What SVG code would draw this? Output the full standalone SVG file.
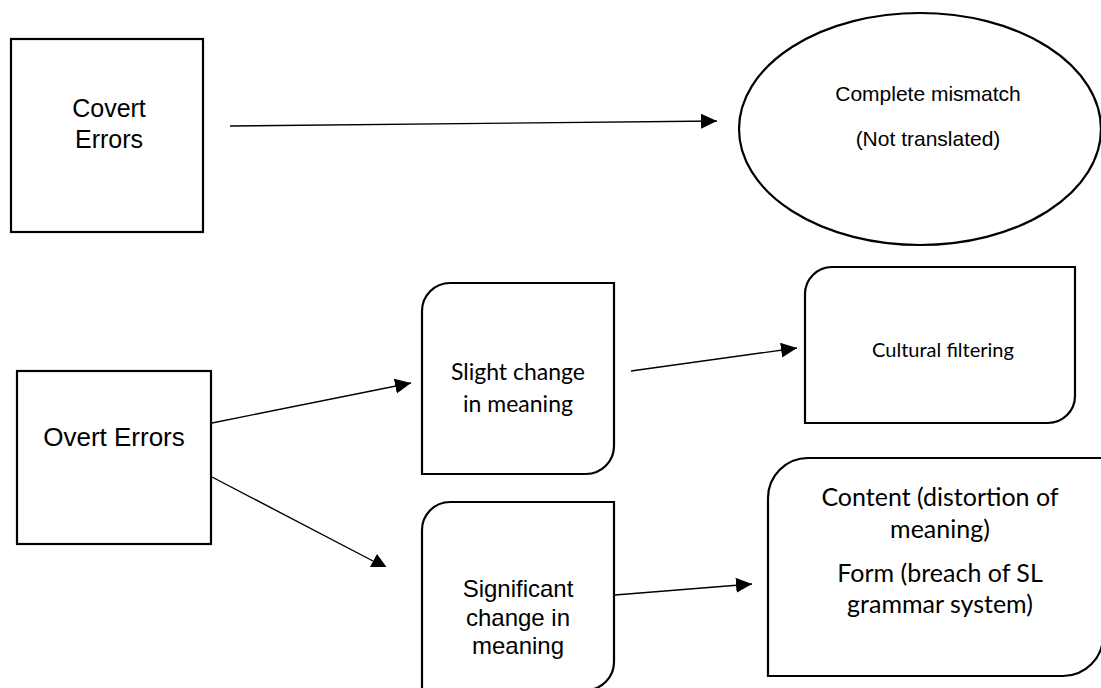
<svg xmlns="http://www.w3.org/2000/svg" width="1101" height="688" viewBox="0 0 1101 688">
<defs>
<style>
.box{fill:#fff;stroke:#000;stroke-width:2.2}
.con{stroke:#000;stroke-width:1.4;fill:none}
.ar{font-family:"Liberation Sans",Arial,sans-serif;fill:#000;text-anchor:middle}
.ca{font-family:Lato,"Liberation Sans",sans-serif;fill:#000;text-anchor:middle}
</style>
<marker id="ah" markerUnits="userSpaceOnUse" markerWidth="17" markerHeight="16" refX="16" refY="7.5" orient="auto">
<path d="M0,0 L16,7.5 L0,15 Z" fill="#000"/>
</marker>
</defs>
<rect width="1101" height="688" fill="#fff"/>
<g id="connectors">
<line class="con" x1="230" y1="126" x2="717" y2="121" marker-end="url(#ah)"/>
<line class="con" x1="212" y1="423" x2="411" y2="383" marker-end="url(#ah)"/>
<line class="con" x1="212" y1="477" x2="373" y2="561"/>
<polygon points="377,554 370,567 386.5,567" fill="#000"/>
<line class="con" x1="631" y1="371" x2="797" y2="348" marker-end="url(#ah)"/>
<line class="con" x1="615" y1="595" x2="752" y2="584" marker-end="url(#ah)"/>
</g>
<g id="covert">
<rect class="box" x="11" y="39" width="192" height="193"/>
<text class="ar" x="109" y="117" font-size="25">Covert</text>
<text class="ar" x="109" y="148" font-size="25">Errors</text>
</g>
<g id="mismatch">
<ellipse class="box" cx="920" cy="129" rx="181" ry="116"/>
<text class="ar" x="928" y="101" font-size="21">Complete mismatch</text>
<text class="ar" x="928" y="146" font-size="21">(Not translated)</text>
</g>
<g id="overt">
<rect class="box" x="17" y="371" width="194" height="173"/>
<text class="ar" x="114" y="446" font-size="26">Overt Errors</text>
</g>
<g id="slight">
<path class="box" d="M422,311 A28,28 0 0 1 450,283 L614,283 L614,446 A28,28 0 0 1 586,474 L422,474 Z"/>
<text class="ca" x="518" y="380" font-size="23">Slight change</text>
<text class="ca" x="518" y="412" font-size="23">in meaning</text>
</g>
<g id="cultural">
<path class="box" d="M805,294 A27,27 0 0 1 832,267 L1075,267 L1075,396 A27,27 0 0 1 1048,423 L805,423 Z"/>
<text class="ca" x="943" y="357" font-size="20">Cultural filtering</text>
</g>
<g id="significant">
<path class="box" d="M422,530 A28,28 0 0 1 450,502 L614,502 L614,662 A28,28 0 0 1 586,690 L422,690 Z"/>
<text class="ar" x="518" y="597" font-size="24">Significant</text>
<text class="ar" x="518" y="626" font-size="24">change in</text>
<text class="ar" x="518" y="654" font-size="24">meaning</text>
</g>
<g id="content">
<path class="box" d="M768,498 A40,40 0 0 1 808,458 L1103,458 L1103,636 A40,40 0 0 1 1063,676 L768,676 Z"/>
<text class="ca" x="940" y="506" font-size="25">Content (distortion of</text>
<text class="ca" x="940" y="538" font-size="25">meaning)</text>
<text class="ca" x="940" y="582" font-size="25">Form (breach of SL</text>
<text class="ca" x="940" y="613" font-size="25">grammar system)</text>
</g>
</svg>
